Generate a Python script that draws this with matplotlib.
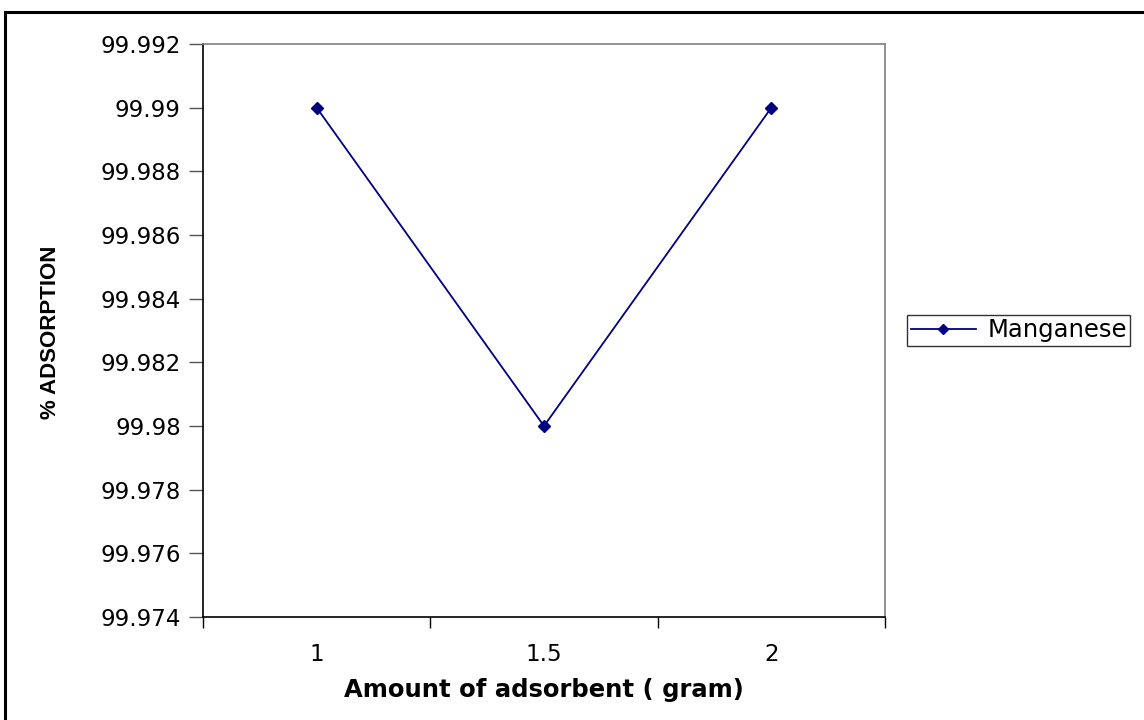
import matplotlib
matplotlib.use("Agg")
import matplotlib.pyplot as plt
from matplotlib.lines import Line2D
from matplotlib.ticker import FixedLocator, NullFormatter, FixedFormatter

categories = ["1", "1.5", "2"]
manganese = [99.99, 99.98, 99.99]
y_ticks = [99.974, 99.976, 99.978, 99.980, 99.982, 99.984, 99.986, 99.988, 99.990, 99.992]
y_tick_labels = ["99.974", "99.976", "99.978", "99.98", "99.982", "99.984", "99.986", "99.988", "99.99", "99.992"]

plt.rcParams['font.family'] = ['DejaVu Sans']

fig = plt.figure(figsize=(11.44, 7.2), dpi=100)
ax = fig.add_axes([203/1144, 1-617/720, (885-203)/1144, (617-44)/720])

x = list(range(len(categories)))
ax.plot(x, manganese, color="#000080", lw=1.3, marker="D", markersize=6.5,
        markerfacecolor="#000080", markeredgecolor="#000080", label="Manganese")

ax.set_xlim(-0.5, len(categories) - 0.5)
ax.set_ylim(y_ticks[0], y_ticks[-1])

ax.xaxis.set_major_locator(FixedLocator([i - 0.5 for i in range(len(categories) + 1)]))
ax.xaxis.set_major_formatter(NullFormatter())
ax.xaxis.set_minor_locator(FixedLocator(x))
ax.xaxis.set_minor_formatter(FixedFormatter(categories))
ax.tick_params(axis="x", which="major", direction="out", length=8, width=1, color="black")
ax.tick_params(axis="x", which="minor", length=0, pad=19, labelsize=16.5)

ax.set_yticks(y_ticks)
ax.set_yticklabels(y_tick_labels)
ax.tick_params(axis="y", direction="out", length=10, width=1, color="#555555", labelsize=16.5, pad=6)

for s in ["top", "right"]:
    ax.spines[s].set_color("#808080")
    ax.spines[s].set_linewidth(1.2)
for s in ["left", "bottom"]:
    ax.spines[s].set_color("black")
    ax.spines[s].set_linewidth(1.2)

fig.text(544/1144, 1-690/720, "Amount of adsorbent ( gram)", ha="center", va="center",
         fontsize=17.5, fontweight="bold")
fig.text(51/1144, 1-332/720, "% ADSORPTION", ha="center", va="center", rotation=90,
         fontsize=16, fontweight="bold",
         family=["Liberation Sans", "DejaVu Sans"])

leg = fig.legend(handles=[Line2D([], [], color="#000080", lw=1.3, marker="D", markersize=5,
                                 markerfacecolor="#000080")],
                 labels=["Manganese"], loc="center left",
                 bbox_to_anchor=(907/1144, 1-330.5/720), fontsize=17.5, frameon=True,
                 fancybox=False, edgecolor="black", borderpad=0.15, handlelength=2.7,
                 handletextpad=0.45, borderaxespad=0)
leg.get_frame().set_linewidth(1.0)

# outer border (top and left visible)
fig.add_artist(Line2D([4.5/1144, 1.0], [1-11.5/720, 1-11.5/720], transform=fig.transFigure,
                      color="black", lw=2.2))
fig.add_artist(Line2D([4.5/1144, 4.5/1144], [0, 1-11.5/720], transform=fig.transFigure,
                      color="black", lw=2.2))

fig.savefig("out.png", dpi=100)
